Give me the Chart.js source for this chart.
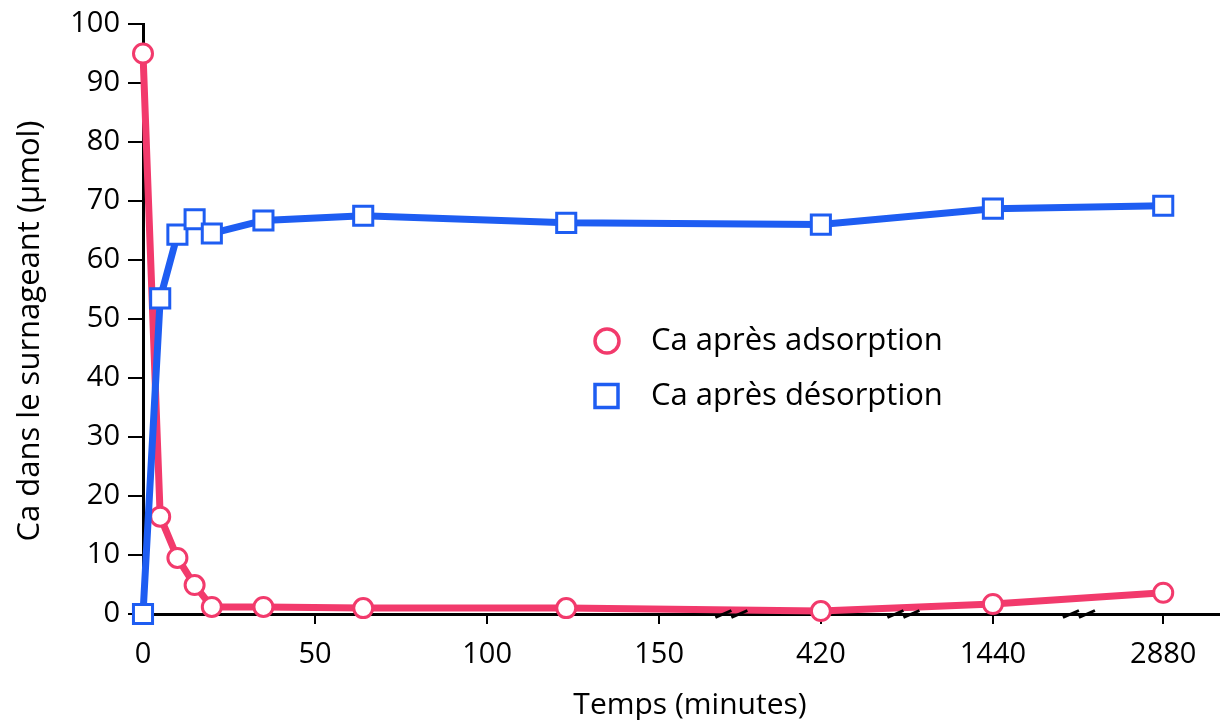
<!DOCTYPE html>
<html>
<head>
<meta charset="utf-8">
<script src="https://cdn.jsdelivr.net/npm/chart.js@4.4.1/dist/chart.umd.min.js"></script>
<style>
  html, body { margin: 0; padding: 0; background: #fff; overflow: hidden; }
  #wrap { width: 1220px; height: 720px; }
  #wrap canvas { display: block; }
</style>
</head>
<body>
<div id="wrap"><canvas id="chart" width="1220" height="720"></canvas></div>
<script>
// temps (minutes) des prélèvements
const times = [0, 5, 10, 15, 20, 35, 64, 123, 420, 1440, 2880];
const adsorption = [95, 16.5, 9.5, 4.9, 1.2, 1.2, 1.0, 1.0, 0.5, 1.7, 3.6];
const desorption = [0, 53.5, 64.3, 66.9, 64.5, 66.7, 67.5, 66.3, 66.0, 68.7, 69.2];

// axe coupé : 0-150 linéaire, puis 420 / 1440 / 2880 à pas fixe
const tickLabels = ['0', '50', '100', '150', '420', '1440', '2880'];
const brokenTimes = [420, 1440, 2880];
const brokenPos = [197, 247, 296.5];
const breakPos = [171, 221, 272];

const xTitle = 'Temps (minutes)';
const yTitle = 'Ca dans le surnageant (µmol)';

const RED = '#f23a6c';
const BLUE = '#1e5df2';
const FONT = 'Open Sans';

function toAxis(t) {
  if (t <= 150) return t;
  const i = brokenTimes.indexOf(t);
  return i >= 0 ? brokenPos[i] : 150;
}
const tickValues = [0, 50, 100, 150].concat(brokenTimes).map(toAxis);

function points(values) {
  return values.map((v, i) => ({ x: toAxis(times[i]), y: v }));
}

// marques de coupure "//" sur l'axe des x
const axisBreaks = {
  id: 'axisBreaks',
  afterDatasetsDraw(chart) {
    const { ctx } = chart;
    const xs = chart.scales.x;
    const y0 = chart.chartArea.bottom;
    ctx.save();
    ctx.strokeStyle = '#000';
    ctx.lineWidth = 3;
    breakPos.forEach((b) => {
      const cx = xs.getPixelForValue(b);
      [-8, 8].forEach((d) => {
        ctx.beginPath();
        ctx.moveTo(cx + d - 8, y0 + 3.5);
        ctx.lineTo(cx + d + 8, y0 - 3.5);
        ctx.stroke();
      });
    });
    ctx.restore();
  },
};

// titres des axes (placés comme sur la figure d'origine)
const axisTitles = {
  id: 'axisTitles',
  afterDraw(chart) {
    const { ctx } = chart;
    ctx.save();
    ctx.fillStyle = '#000';
    ctx.textAlign = 'center';
    ctx.textBaseline = 'alphabetic';
    ctx.font = '30px "' + FONT + '"';
    ctx.fillText(xTitle, 690, 714);
    ctx.translate(39, 331);
    ctx.rotate(-Math.PI / 2);
    ctx.font = '31px "' + FONT + '"';
    ctx.fillText(yTitle, 0, 0);
    ctx.restore();
  },
};

// légende dans la zone du graphique
const innerLegend = {
  id: 'innerLegend',
  afterDraw(chart) {
    const { ctx } = chart;
    const items = [
      { label: 'Ca après adsorption', color: RED, shape: 'circle', y: 341 },
      { label: 'Ca après désorption', color: BLUE, shape: 'rect', y: 396 },
    ];
    ctx.save();
    ctx.lineWidth = 3.5;
    ctx.font = '31px "' + FONT + '"';
    ctx.textBaseline = 'middle';
    ctx.fillStyle = '#000';
    items.forEach((it) => {
      ctx.strokeStyle = it.color;
      ctx.beginPath();
      if (it.shape === 'circle') {
        ctx.arc(607, it.y, 12, 0, Math.PI * 2);
      } else {
        ctx.rect(595, it.y - 11.5, 23, 23);
      }
      ctx.stroke();
      ctx.fillText(it.label, 651, it.y);
    });
    ctx.restore();
  },
};

new Chart(document.getElementById('chart'), {
  type: 'line',
  data: {
    datasets: [
      {
        label: 'Ca après désorption',
        data: points(desorption),
        borderColor: BLUE,
        borderWidth: 7,
        pointStyle: 'rect',
        pointRadius: 13.5,
        pointBorderWidth: 3,
        pointBackgroundColor: '#fff',
        pointBorderColor: BLUE,
        tension: 0,
        clip: false,
        order: 0,
      },
      {
        label: 'Ca après adsorption',
        data: points(adsorption),
        borderColor: RED,
        borderWidth: 7,
        pointStyle: 'circle',
        pointRadius: 9.5,
        pointBorderWidth: 3,
        pointBackgroundColor: '#fff',
        pointBorderColor: RED,
        tension: 0,
        clip: false,
        order: 1,
      },
    ],
  },
  options: {
    responsive: false,
    animation: false,
    devicePixelRatio: 1,
    layout: { autoPadding: false, padding: { top: 24, right: 0, bottom: 0, left: 0 } },
    plugins: {
      legend: { display: false },
      tooltip: { enabled: false },
    },
    scales: {
      x: {
        type: 'linear',
        min: 0,
        max: 313,
        afterBuildTicks: (s) => {
          s.ticks = tickValues.map((v) => ({ value: v }));
        },
        afterFit: (s) => {
          s.height = 106;
          s.paddingRight = 0;
        },
        ticks: {
          autoSkip: false,
          maxRotation: 0,
          padding: 13,
          color: '#000',
          font: { family: FONT, size: 29 },
          callback: (v, i) => tickLabels[i],
        },
        grid: {
          drawOnChartArea: false,
          drawTicks: true,
          tickLength: 10,
          color: '#000',
          lineWidth: 2,
        },
        border: { display: true, color: '#000', width: 3 },
      },
      y: {
        min: 0,
        max: 100,
        afterFit: (s) => {
          s.width = 143;
          s.paddingTop = 0;
          s.paddingBottom = 0;
        },
        ticks: {
          stepSize: 10,
          padding: 8,
          color: '#000',
          font: { family: FONT, size: 29 },
        },
        grid: {
          drawOnChartArea: false,
          drawTicks: true,
          tickLength: 15,
          color: '#000',
          lineWidth: 2,
        },
        border: { display: true, color: '#000', width: 3 },
      },
    },
  },
  plugins: [axisBreaks, axisTitles, innerLegend],
});
</script>
</body>
</html>
